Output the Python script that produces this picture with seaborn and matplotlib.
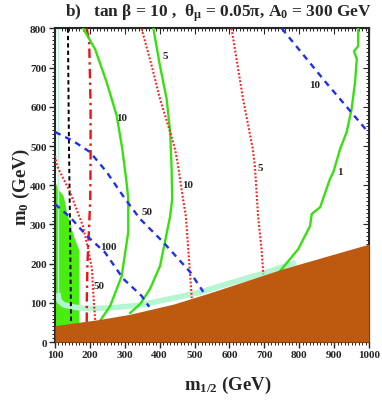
import matplotlib
matplotlib.use("Agg")
import matplotlib.pyplot as plt
import numpy as np
import pandas as pd
import seaborn as sns

# ---- data (m_1/2, m_0) in GeV ----
brown_x = [100, 230, 315, 440, 545, 750, 1000]
brown_y = [42, 58, 71, 97, 126, 186, 250]

bsg_x = [100, 100, 109, 124, 129, 134, 148, 157, 170, 170]
bsg_y = [0, 411, 390, 374, 357, 332, 288, 263, 233, 0]

mint_x = [108, 108, 112, 125, 150, 180, 230, 280, 344, 400, 450, 515, 600, 700, 790]
mint_y = [800, 125, 105, 95, 90, 86, 86, 89, 94, 105, 114, 127, 150, 176, 203]

chargino_x = [137, 140, 143, 146]
chargino_y = [800, 500, 300, 48]

higgs_x = [191, 198, 202, 202, 201, 198, 193, 191, 191]
higgs_y = [800, 765, 600, 467, 365, 300, 200, 100, 48]

green10_x = [181, 215, 248, 277, 293, 305, 310, 310, 291, 258, 229]
green10_y = [800, 747, 663, 577, 492, 408, 365, 281, 168, 92, 54]
green5_x = [382, 401, 420, 430, 434, 436, 430, 415, 401, 372, 344, 315]
green5_y = [800, 704, 620, 536, 449, 365, 321, 255, 194, 135, 97, 74]
green1_x = [969, 969, 957, 965, 960, 950, 936, 917, 898, 888, 860, 836, 831, 797, 745]
green1_y = [800, 755, 742, 722, 663, 594, 536, 492, 434, 416, 344, 327, 296, 237, 181]

red50_x = [100, 106, 143, 180, 195, 206, 209, 215]
red50_y = [475, 449, 383, 296, 237, 186, 135, 55]
red10_x = [348, 377, 401, 430, 444, 453, 467, 475, 482, 492]
red10_y = [800, 705, 620, 536, 492, 449, 365, 321, 237, 112]
red5_x = [606, 639, 667, 673, 682, 692, 697]
red5_y = [800, 620, 492, 449, 321, 237, 173]

blue10_x = [750, 874, 1000]
blue10_y = [800, 665, 533]
blue50_x = [100, 152, 200, 248, 301, 344, 410, 487, 525]
blue50_y = [536, 513, 485, 434, 365, 314, 255, 179, 128]
blue100_x = [100, 143, 191, 243, 296, 348, 370]
blue100_y = [352, 319, 271, 229, 161, 118, 90]

# contour labels: (x, y, text)
labels = [
    (292, 574, "10"), (415, 732, "5"), (917, 434, "1"),
    (226, 145, "50"), (481, 403, "10"), (688, 446, "5"),
    (845, 658, "10"), (364, 334, "50"), (252, 245, "100"),
]

sns.set_style("ticks")
plt.rcParams["font.family"] = ["Liberation Serif", "DejaVu Serif"]
plt.rcParams["font.weight"] = "bold"
plt.rcParams["mathtext.fontset"] = "custom"
plt.rcParams["mathtext.rm"] = "Liberation Serif:bold"
plt.rcParams["mathtext.it"] = "Liberation Serif:bold"
plt.rcParams["mathtext.bf"] = "Liberation Serif:bold"

fig = plt.figure(figsize=(3.82, 4.06), dpi=100)
ax = fig.add_axes([0.144, 0.155, 0.822, 0.7724])

# shaded regions
ax.fill(bsg_x, bsg_y, color="#48ee10", lw=0, zorder=1)
ax.plot(mint_x[:2], mint_y[:2], color="#b4f5d2", lw=1.0, zorder=2)
ax.plot(mint_x[1:], mint_y[1:], color="#b4f5d2", lw=4.0, zorder=2,
        solid_capstyle="butt")


def curve(xs, ys, color, lw, dashes=None):
    df = pd.DataFrame({"x": xs, "y": ys})
    line = sns.lineplot(data=df, x="x", y="y", sort=False, estimator=None,
                        color=color, lw=lw, ax=ax, zorder=3)
    if dashes is not None:
        line.lines[-1].set_dashes(dashes)


curve(chargino_x, chargino_y, "black", 1.4, (2.2, 1.6))
curve(higgs_x, higgs_y, "#ee1111", 1.7, (4.0, 1.8, 1.0, 1.8))
for xs, ys in [(green10_x, green10_y), (green5_x, green5_y), (green1_x, green1_y)]:
    curve(xs, ys, "#38e010", 1.7)
for xs, ys in [(red50_x, red50_y), (red10_x, red10_y), (red5_x, red5_y)]:
    curve(xs, ys, "#ff2020", 1.5, (0.9, 0.9))
for xs, ys in [(blue10_x, blue10_y), (blue50_x, blue50_y), (blue100_x, blue100_y)]:
    curve(xs, ys, "#1f2ff0", 1.7, (2.6, 2.2))

ax.fill_between(brown_x, 0, brown_y, color="#bd5a0f", lw=0, zorder=5)

for x, y, t in labels:
    ax.text(x, y, t, fontsize=8, fontweight="bold", ha="center", va="center", zorder=6)

ax.set_xlim(100, 1000)
ax.set_ylim(0, 800)
ax.set_xticks(np.arange(100, 1001, 100))
ax.set_yticks(np.arange(0, 801, 100))
ax.set_xticks(np.arange(100, 1001, 10), minor=True)
ax.set_yticks(np.arange(0, 801, 10), minor=True)
ax.tick_params(which="major", direction="out", length=4, width=1, labelsize=8, pad=2)
ax.tick_params(which="minor", direction="out", length=2, width=0.7)
for s in ax.spines.values():
    s.set_linewidth(1.5)
ax.set_xlabel("")
ax.set_ylabel("")

top = ax.secondary_xaxis("top")
top.set_xticks(np.arange(100, 1001, 100), labels=[])
top.set_xticks(np.arange(100, 1001, 10), minor=True)
top.tick_params(which="major", direction="in", length=4)
top.tick_params(which="minor", direction="in", length=2, width=0.7)
right = ax.secondary_yaxis("right")
right.set_yticks(np.arange(0, 801, 100), labels=[])
right.set_yticks(np.arange(0, 801, 10), minor=True)
right.tick_params(which="major", direction="in", length=4)
right.tick_params(which="minor", direction="in", length=2, width=0.7)

fig.text(0.571, 0.968, "b)   tan β = 10 ,  θ$_\\mathrm{μ}$ = 0.05π, A$_\\mathrm{0}$ = 300 GeV",
         ha="center", va="center", fontsize=12.5, fontweight="bold")
fig.text(0.597, 0.05, "m$_\\mathrm{1/2}$ (GeV)", ha="center", va="center",
         fontsize=13.5, fontweight="bold")
fig.text(0.055, 0.54, "m$_\\mathrm{0}$ (GeV)", ha="center", va="center",
         fontsize=13.5, fontweight="bold", rotation=90)

fig.savefig("out.png", dpi=100)
